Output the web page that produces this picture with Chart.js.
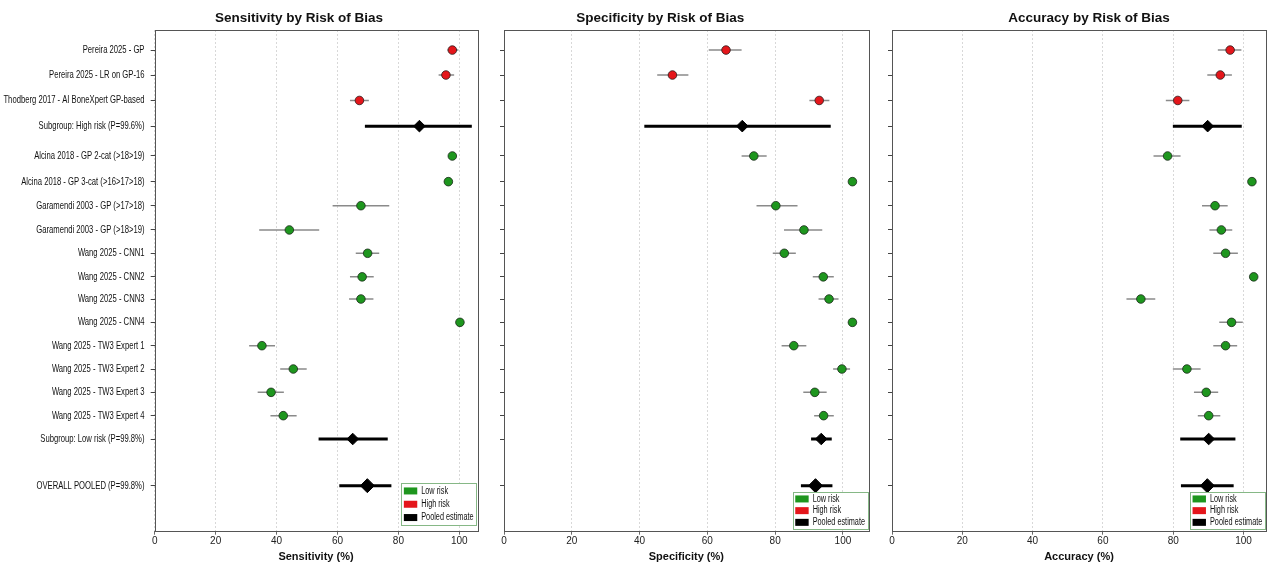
<!DOCTYPE html>
<html>
<head>
<meta charset="utf-8">
<script src="https://cdn.jsdelivr.net/npm/chart.js@4.4.1/dist/chart.umd.min.js"></script>
<style>
  body { margin: 0; background: #fff; width: 1274px; height: 564px; overflow: hidden; position: relative; }
  canvas { position: absolute; top: 0; }
</style>
</head>
<body>
<canvas id="sensChart" width="490" height="564" style="left:0px"></canvas>
<canvas id="specChart" width="390" height="564" style="left:490px"></canvas>
<canvas id="accChart" width="394" height="564" style="left:880px"></canvas>

<script>
// rows, top to bottom
const rowLabels = [
  'Pereira 2025 - GP',
  'Pereira 2025 - LR on GP-16',
  'Thodberg 2017 - AI BoneXpert GP-based',
  'Subgroup: High risk (P=99.6%)',
  'Alcina 2018 - GP 2-cat (>18>19)',
  'Alcina 2018 - GP 3-cat (>16>17>18)',
  'Garamendi 2003 - GP (>17>18)',
  'Garamendi 2003 - GP (>18>19)',
  'Wang 2025 - CNN1',
  'Wang 2025 - CNN2',
  'Wang 2025 - CNN3',
  'Wang 2025 - CNN4',
  'Wang 2025 - TW3 Expert 1',
  'Wang 2025 - TW3 Expert 2',
  'Wang 2025 - TW3 Expert 3',
  'Wang 2025 - TW3 Expert 4',
  'Subgroup: Low risk (P=99.8%)',
  'OVERALL POOLED (P=99.8%)'
];
const rowType = ['high', 'high', 'high', 'subgroup',
  'low', 'low', 'low', 'low', 'low', 'low', 'low', 'low', 'low', 'low', 'low', 'low',
  'subgroup', 'overall'];
const rowPos = [0, 1.07, 2.16, 3.26, 4.54, 5.64, 6.67, 7.71, 8.71, 9.72,
  10.67, 11.67, 12.67, 13.67, 14.67, 15.67, 16.67, 18.67];

// estimates with 95% CI (%)
const sensEst = [97.7, 95.6, 67.2, 86.9, 97.7, 96.4, 67.7, 44.2, 69.9, 68.1, 67.7, 100.2, 35.2, 45.5, 38.2, 42.2, 65.0, 69.8];
const sensLo  = [96.1, 93.2, 64.1, 69.0, 96.8, 95.0, 58.4, 34.3, 66.0, 64.1, 63.8, 100.2, 31.0, 41.2, 33.8, 38.0, 53.8, 60.6];
const sensHi  = [99.7, 98.3, 70.3, 104.1, 98.6, 97.7, 77.0, 54.0, 73.7, 71.9, 71.8, 100.2, 39.5, 49.9, 42.4, 46.6, 76.5, 77.7];

const specEst = [65.5, 49.7, 93.0, 70.3, 73.7, 102.8, 80.2, 88.5, 82.7, 94.2, 95.9, 102.8, 85.5, 99.7, 91.7, 94.3, 93.6, 91.9];
const specLo  = [60.4, 45.2, 90.1, 41.4, 70.1, 102.8, 74.5, 82.6, 79.3, 91.1, 92.8, 102.8, 81.9, 97.1, 88.3, 91.5, 90.6, 87.6];
const specHi  = [70.1, 54.4, 96.0, 96.4, 77.5, 102.8, 86.6, 93.9, 86.1, 97.3, 98.7, 102.8, 89.2, 102.1, 95.2, 97.3, 96.7, 96.9];

const accEst = [96.2, 93.4, 81.3, 89.8, 78.4, 102.4, 91.9, 93.7, 94.9, 102.9, 70.8, 96.6, 94.9, 83.9, 89.4, 90.1, 90.1, 89.7];
const accLo  = [92.7, 89.7, 77.9, 79.9, 74.4, 101.3, 88.2, 90.3, 91.4, 102.3, 66.7, 93.1, 91.4, 79.9, 85.9, 87.0, 82.0, 82.2];
const accHi  = [99.4, 96.7, 84.6, 99.5, 82.1, 102.9, 95.5, 96.8, 98.4, 102.9, 74.9, 99.8, 98.2, 87.8, 92.8, 93.4, 97.7, 97.2];

const xTicks = [0, 20, 40, 60, 80, 100];

const FONT = "'Liberation Sans', Arial, sans-serif";
Chart.defaults.font.family = FONT;
Chart.defaults.color = '#222';

const LOW = '#1e961e', HIGH = '#e4161b', POOLED = '#000000';
const SQUEEZE = 0.73;   // row labels and legend text are set narrow

function pointsFor(est, kinds) {
  const out = [];
  rowPos.forEach((y, i) => {
    if (kinds.includes(rowType[i])) out.push({ x: est[i], y: y, kind: rowType[i] });
  });
  return out;
}
function ciFor(lo, hi, kinds) {
  const out = [];
  rowPos.forEach((y, i) => {
    if (kinds.includes(rowType[i])) out.push({ x: lo[i], y: y }, { x: hi[i], y: y }, { x: null, y: null });
  });
  return out;
}

// squeeze the y labels horizontally (right edge kept), shift title
const narrowLabels = {
  id: 'narrowLabels',
  afterLayout(chart, args, opts) {
    const t = chart.titleBlock;
    if (t && opts.titleShift) { t.left += opts.titleShift; t.right += opts.titleShift; }
  },
  beforeDraw(chart) {
    const y = chart.scales.y;
    if (y._narrow) return;
    const orig = y.drawLabels;
    y.drawLabels = function (area) {
      const c = this.ctx, r = this.right, l = this.left;
      this.left = r - (r + 2) / SQUEEZE;   // keep the label clip box wide enough
      c.save();
      c.translate(r, 0); c.scale(SQUEEZE, 1); c.translate(-r, 0);
      orig.call(this, area);
      c.restore();
      this.left = l;
    };
    y._narrow = true;
  }
};

// frame round the plot + legend box in the lower right corner
const framePlugin = {
  id: 'frameLegend',
  afterDatasetsDraw(chart, args, opts) {
    const { ctx, chartArea: a } = chart;
    ctx.save();
    ctx.strokeStyle = '#555';
    ctx.lineWidth = 1;
    ctx.strokeRect(Math.round(a.left) + 0.5, Math.round(a.top) + 0.5,
      Math.round(a.right - a.left), Math.round(a.bottom - a.top));

    const items = chart.data.datasets.filter(d => d.inLegend);
    ctx.font = '10px ' + FONT;
    const tw = Math.max(...items.map(d => ctx.measureText(d.label).width)) * SQUEEZE;
    const w = 2.6 + 13.4 + 4 + tw + 2.7;
    const h = items.length * opts.rowH + 2;
    const x0 = a.right - opts.gapRight - w;
    const y0 = a.bottom - opts.gapBottom - h;
    ctx.fillStyle = '#fff';
    ctx.fillRect(x0, y0, w, h);
    ctx.strokeStyle = '#86b886';
    ctx.strokeRect(Math.round(x0) + 0.5, Math.round(y0) + 0.5, Math.round(w), Math.round(h));
    items.forEach((d, k) => {
      const cy = y0 + 1 + opts.rowH * (k + 0.5);
      ctx.fillStyle = d.backgroundColor;
      ctx.fillRect(x0 + 2.6, cy - 3.5, 13.4, 7);
      ctx.fillStyle = '#111';
      ctx.textBaseline = 'middle';
      ctx.textAlign = 'left';
      ctx.save();
      ctx.translate(x0 + 20, cy);
      ctx.scale(SQUEEZE, 1);
      ctx.fillText(d.label, 0, 0);
      ctx.restore();
    });
    ctx.restore();
  }
};

function makeChart(id, title, axisTitle, est, lo, hi, cfg) {
  return new Chart(document.getElementById(id), {
    type: 'scatter',
    data: {
      datasets: [
        { label: 'Low risk', inLegend: true, data: pointsFor(est, ['low']),
          backgroundColor: LOW, borderColor: '#1a2a1a', borderWidth: 0.8, pointRadius: 4.3 },
        { label: 'High risk', inLegend: true, data: pointsFor(est, ['high']),
          backgroundColor: HIGH, borderColor: '#2a1a1a', borderWidth: 0.8, pointRadius: 4.3 },
        { label: 'Pooled estimate', inLegend: true, data: pointsFor(est, ['subgroup', 'overall']),
          backgroundColor: POOLED, borderColor: POOLED, borderWidth: 1, pointStyle: 'rectRot',
          pointRadius: c => (c.raw && c.raw.kind === 'overall') ? 7 : 5.8 },
        { label: 'ci pooled', data: ciFor(lo, hi, ['subgroup', 'overall']), showLine: true,
          borderColor: '#000', borderWidth: 3, pointRadius: 0, spanGaps: false },
        { label: 'ci', data: ciFor(lo, hi, ['low', 'high']), showLine: true,
          borderColor: '#8a8a8a', borderWidth: 1.5, pointRadius: 0, spanGaps: false }
      ]
    },
    options: {
      responsive: false,
      animation: false,
      layout: { padding: { left: 0, right: cfg.padRight, top: 0, bottom: 0 } },
      plugins: {
        legend: { display: false },
        tooltip: { enabled: false },
        title: { display: true, text: title, fullSize: false, color: '#111',
          font: { size: 13.5, weight: 'bold' }, padding: { top: 10, bottom: 3.8 } },
        frameLegend: cfg.legend,
        narrowLabels: { titleShift: cfg.titleShift }
      },
      scales: {
        x: {
          type: 'linear', min: 0, max: cfg.xMax,
          afterBuildTicks: s => { s.ticks = xTicks.map(v => ({ value: v })); },
          afterFit: s => { s.height = 33.3; },
          ticks: { padding: 1, font: { size: 10 }, color: '#222', maxRotation: 0 },
          grid: { color: '#cfcfcf', lineWidth: 0.8, tickLength: 4, tickColor: '#444' },
          border: { display: false, dash: [2, 2] },
          title: { display: true, text: axisTitle, color: '#111',
            font: { size: 11, weight: 'bold' }, padding: { top: 0, bottom: 0.5 } }
        },
        y: {
          type: 'linear', reverse: true, min: -0.86, max: 20.6,
          afterBuildTicks: s => { s.ticks = rowPos.map(v => ({ value: v })); },
          afterFit: s => { s.width = cfg.yWidth; },
          ticks: { autoSkip: false, padding: 10, font: { size: 10.5 }, color: '#111',
            callback: (v, i) => cfg.showLabels ? rowLabels[i] : '' },
          grid: { drawOnChartArea: false, tickLength: 4, color: '#444', tickColor: '#444' },
          border: { display: false }
        }
      }
    },
    plugins: [narrowLabels, framePlugin]
  });
}

makeChart('sensChart', 'Sensitivity by Risk of Bias', 'Sensitivity (%)', sensEst, sensLo, sensHi,
  { xMax: 105.9, yWidth: 154.7, padRight: 12.7, showLabels: true, titleShift: -17,
    legend: { rowH: 13.3, gapBottom: 5.5, gapRight: 1 } });
makeChart('specChart', 'Specificity by Risk of Bias', 'Specificity (%)', specEst, specLo, specHi,
  { xMax: 107.6, yWidth: 14, padRight: 11.3, showLabels: false, titleShift: -26,
    legend: { rowH: 11.7, gapBottom: 1.5, gapRight: 1 } });
makeChart('accChart', 'Accuracy by Risk of Bias', 'Accuracy (%)', accEst, accLo, accHi,
  { xMax: 106.4, yWidth: 12, padRight: 4, showLabels: false, titleShift: 10,
    legend: { rowH: 11.7, gapBottom: 1.5, gapRight: 1 } });
</script>
</body>
</html>
